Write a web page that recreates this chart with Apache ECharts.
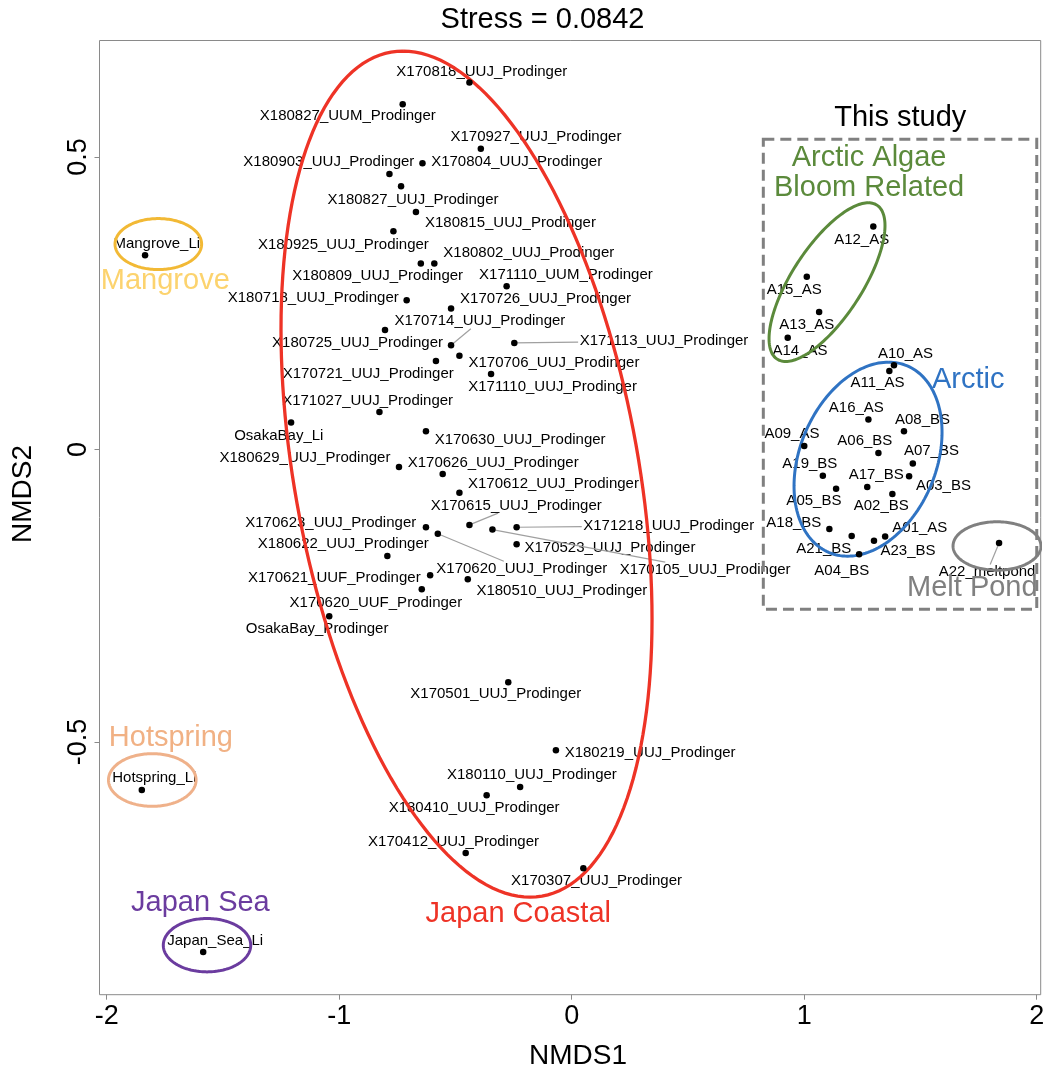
<!DOCTYPE html>
<html><head><meta charset="utf-8">
<script src="https://cdn.jsdelivr.net/npm/echarts@6/dist/echarts.min.js"></script>
<style>html,body{margin:0;padding:0;background:#fff}#chart{width:1043px;height:1073px}</style>
</head><body><div id="chart"></div>
<script>
// ---------------- data ----------------
const sampleNames = [
 'X170818_UUJ_Prodinger','X180827_UUM_Prodinger','X170927_UUJ_Prodinger','X170804_UUJ_Prodinger',
 'X180903_UUJ_Prodinger','X180827_UUJ_Prodinger','X180815_UUJ_Prodinger','X180925_UUJ_Prodinger',
 'X180809_UUJ_Prodinger','X180802_UUJ_Prodinger','X171110_UUM_Prodinger','X180718_UUJ_Prodinger',
 'X170726_UUJ_Prodinger','X180725_UUJ_Prodinger','X170714_UUJ_Prodinger','X171113_UUJ_Prodinger',
 'X170706_UUJ_Prodinger','X170721_UUJ_Prodinger','X171110_UUJ_Prodinger','X171027_UUJ_Prodinger',
 'OsakaBay_Li','X170630_UUJ_Prodinger','X180629_UUJ_Prodinger','X170626_UUJ_Prodinger',
 'X170612_UUJ_Prodinger','X170615_UUJ_Prodinger','X170623_UUJ_Prodinger','X171218_UUJ_Prodinger',
 'X180622_UUJ_Prodinger','X170523_UUJ_Prodinger','X170620_UUJ_Prodinger','X170105_UUJ_Prodinger',
 'X170621_UUF_Prodinger','X180510_UUJ_Prodinger','X170620_UUF_Prodinger','OsakaBay_Prodinger',
 'X170501_UUJ_Prodinger','X180219_UUJ_Prodinger','X180110_UUJ_Prodinger','X180410_UUJ_Prodinger',
 'X170412_UUJ_Prodinger','X170307_UUJ_Prodinger',
 'Mangrove_Li','Hotspring_Li','Japan_Sea_Li',
 'A12_AS','A15_AS','A13_AS','A14_AS','A10_AS','A11_AS','A16_AS','A08_BS','A09_AS','A06_BS',
 'A07_BS','A19_BS','A03_BS','A17_BS','A05_BS','A02_BS','A18_BS','A21_BS','A01_AS','A23_BS',
 'A04_BS','A22_meltpond'
];
const nmds1 = [
 -0.440,-0.727,-0.391,-0.642,
 -0.784,-0.734,-0.670,-0.767,
 -0.649,-0.591,-0.280,-0.710,
 -0.519,-0.803,-0.519,-0.247,
 -0.483,-0.584,-0.347,-0.827,
 -1.207,-0.627,-0.743,-0.555,
 -0.483,-0.440,-0.627,-0.237,
 -0.793,-0.237,-0.576,-0.341,
 -0.609,-0.447,-0.645,-1.043,
 -0.273,-0.068,-0.222,-0.366,
 -0.456,0.050,
 -1.835,-1.849,-1.585,
 1.297,1.011,1.064,0.929,1.386,1.366,1.276,1.429,1.000,1.319,
 1.467,1.080,1.451,1.271,1.137,1.379,1.108,1.204,1.348,1.300,
 1.236,1.838
];
const nmds2 = [
 0.627,0.590,0.514,0.489,
 0.471,0.450,0.406,0.373,
 0.318,0.318,0.279,0.255,
 0.241,0.204,0.178,0.182,
 0.160,0.151,0.129,0.064,
 0.046,0.031,-0.030,-0.042,
 -0.074,-0.129,-0.133,-0.133,
 -0.182,-0.162,-0.144,-0.137,
 -0.215,-0.222,-0.239,-0.285,
 -0.398,-0.514,-0.577,-0.591,
 -0.690,-0.716,
 0.332,-0.582,-0.859,
 0.381,0.295,0.235,0.191,0.144,0.134,0.051,0.031,0.006,-0.006,
 -0.024,-0.045,-0.046,-0.064,-0.067,-0.076,-0.136,-0.148,-0.149,-0.156,
 -0.179,-0.160
];

// group ellipses: centre + two conjugate half-axis vectors (NMDS units)
const groupNames   = ['Japan Coastal','Arctic Algae\nBloom Related','Arctic','Melt Pond','Mangrove','Hotspring','Japan Sea'];
const ellipseCX    = [-0.4525, 1.098, 1.2744, 1.829, -1.778, -1.804, -1.5686];
const ellipseCY    = [-0.0422, 0.286, -0.0166, -0.165, 0.351, -0.565, -0.8474];
const ellipseUX    = [-0.2731, 0.1776, 0.0882, 0, 0, 0, 0];
const ellipseUY    = [0.7231, 0.1356, 0.1658, 0.0414, 0.0436, 0.045, 0.0456];
const ellipseVX    = [0.7497, 0.175, 0.3058, 0.189, 0.1862, 0.1884, 0.188];
const ellipseVY    = [0, 0, 0, 0, 0, 0, 0];
// group name annotations (NMDS units)
const groupLabelX  = [-0.230, 1.279, 1.705, 1.723, -1.748, -1.724, -1.597];
const groupLabelY  = [-0.794, 0.472, 0.118, -0.236, 0.288, -0.494, -0.775];
// "This study" box [x1, y1, x2, y2] and its caption
const studyBox = [0.824, 0.530, 2.0, -0.273];
const studyCaption = { text: 'This study', x: 1.413, y: 0.567 };

const xTicks = [-2, -1, 0, 1, 2];
const yTicks = [-0.5, 0, 0.5];
const titleText = 'Stress = 0.0842';

// ---------------- styling / layout ----------------
const FONT = "'Liberation Sans', Arial, Helvetica, sans-serif";
const groupColors = ['#ee3326', '#5b8a3b', '#2f73c3', '#808080', '#f2b935', '#efb18a', '#6b3c9f'];
const groupTextColors = ['#ee3326', '#5b8a3b', '#2f73c3', '#808080', '#fcd36e', '#f1b184', '#6b3c9f'];
const groupLineWidth = [3.3, 3, 3, 3, 3, 3, 3];

// label offsets (px) from point to label centre
const labelOffsets = {
 'X170818_UUJ_Prodinger':[12.4,-11],'X180827_UUM_Prodinger':[-54.9,12],'X170927_UUJ_Prodinger':[55.1,-11.6],
 'X170804_UUJ_Prodinger':[94.2,-1.6],'X180903_UUJ_Prodinger':[-60.6,-12],'X180827_UUJ_Prodinger':[12,13.3],
 'X180815_UUJ_Prodinger':[94.5,11],'X180925_UUJ_Prodinger':[-50,13.3],'X180809_UUJ_Prodinger':[-43.2,12.7],
 'X180802_UUJ_Prodinger':[94.5,-10.6],'X171110_UUM_Prodinger':[59.3,-11],'X180718_UUJ_Prodinger':[-93.4,-2.3],
 'X170726_UUJ_Prodinger':[94.5,-9.3],'X180725_UUJ_Prodinger':[-27.5,12.7],'X170714_UUJ_Prodinger':[28.8,-24],
 'X171113_UUJ_Prodinger':[149.7,-2],'X170706_UUJ_Prodinger':[94.5,7],'X170721_UUJ_Prodinger':[-67.7,12.3],
 'X171110_UUJ_Prodinger':[61.5,12.7],'X171027_UUJ_Prodinger':[-11.8,-11],'OsakaBay_Li':[-12.3,13.4],
 'X170630_UUJ_Prodinger':[94.2,8.3],'X180629_UUJ_Prodinger':[-94,-9.3],'X170626_UUJ_Prodinger':[50.5,-11.3],
 'X170612_UUJ_Prodinger':[94,-8.7],'X170615_UUJ_Prodinger':[46.9,-19.3],'X170623_UUJ_Prodinger':[-95.2,-4.6],
 'X171218_UUJ_Prodinger':[152.1,-1.6],'X180622_UUJ_Prodinger':[-44.1,-11.7],'X170523_UUJ_Prodinger':[93.3,3.3],
 'X170620_UUJ_Prodinger':[84,35],'X170105_UUJ_Prodinger':[212.7,40],'X170621_UUF_Prodinger':[-95.8,3],
 'X180510_UUJ_Prodinger':[94.1,11.4],'X170620_UUF_Prodinger':[-45.9,13.4],'OsakaBay_Prodinger':[-12.1,12.7],
 'X170501_UUJ_Prodinger':[-12.5,12],'X180219_UUJ_Prodinger':[94.2,2.7],'X180110_UUJ_Prodinger':[11.8,-12.4],
 'X180410_UUJ_Prodinger':[-12.5,12.3],'X170412_UUJ_Prodinger':[-12.2,-11.7],'X170307_UUJ_Prodinger':[13.2,12.7],
 'Mangrove_Li':[11.7,-11],'Hotspring_Li':[12.5,-11.7],'Japan_Sea_Li':[12,-11],
 'A12_AS':[-11.6,13.3],'A15_AS':[-12.5,13.3],'A13_AS':[-12.3,12.6],'A14_AS':[12.3,12.7],'A10_AS':[11.5,-11.3],
 'A11_AS':[-11.8,12],'A16_AS':[-12.1,-12],'A08_BS':[18.5,-11.7],'A09_AS':[-12.3,-12],'A06_BS':[-13.6,-11.7],
 'A07_BS':[18.6,-12.3],'A19_BS':[-13,-12.4],'A03_BS':[34.3,10],'A17_BS':[8.9,-11.7],'A05_BS':[-22.2,12.4],
 'A02_BS':[-11.1,12],'A18_BS':[-35.5,-5.7],'A21_BS':[-27.9,12.6],'A01_AS':[34.7,-8.4],'A23_BS':[34,10],
 'A04_BS':[-17.3,16.7],'A22_meltpond':[-12,29]
};
const leaderLabels = new Set(['X170714_UUJ_Prodinger','X171113_UUJ_Prodinger','X170615_UUJ_Prodinger',
 'X171218_UUJ_Prodinger','X170620_UUJ_Prodinger','X170105_UUJ_Prodinger','A22_meltpond']);

const measureCtx = document.createElement('canvas').getContext('2d');
measureCtx.font = '15px ' + FONT;
function textW(t){ return measureCtx.measureText(t).width; }

function txt(x, y, text, size, color, rotation) {
  return { type: 'text', x: x, y: y, rotation: rotation || 0,
    style: { text: text, fill: color, fontSize: size, fontFamily: FONT,
      align: 'center', verticalAlign: 'middle', textAlign: 'center', textVerticalAlign: 'middle',
      lineHeight: Math.round(size * 1.04) } };
}

const chart = echarts.init(document.getElementById('chart'), null, { renderer: 'canvas' });

const option = {
  animation: false,
  backgroundColor: '#fff',
  grid: { left: 99.5, right: 2.3, top: 40.5, bottom: 78.3, show: true, borderColor: '#8a8a8a', borderWidth: 1,
          backgroundColor: 'transparent', containLabel: false, outerBoundsMode: 'none' },
  xAxis: {
    type: 'value', min: -2.031, max: 2.017,
    splitLine: { show: false }, axisLine: { show: false, onZero: false },
    axisTick: { show: true, length: 5, lineStyle: { color: '#8a8a8a' }, customValues: xTicks },
    axisLabel: { customValues: xTicks, fontSize: 27, color: '#000', fontFamily: FONT, margin: 8 }
  },
  yAxis: {
    type: 'value', min: -0.932, max: 0.699,
    splitLine: { show: false }, axisLine: { show: false, onZero: false },
    axisTick: { show: true, length: 5, lineStyle: { color: '#8a8a8a' }, customValues: yTicks },
    axisLabel: { customValues: yTicks, fontSize: 27, color: '#000', fontFamily: FONT, margin: 7, rotate: 90 }
  },
  graphic: [
    txt(542.5, 19.5, titleText, 29, '#000'),
    txt(578, 1056.4, 'NMDS1', 28, '#000'),
    txt(23, 494, 'NMDS2', 28, '#000', Math.PI / 2)
  ],
  series: [
    { // sample labels + leader lines
      type: 'custom', coordinateSystem: 'cartesian2d', silent: true, z: 2,
      data: nmds1.map((x, i) => [x, nmds2[i]]),
      renderItem: function (params, api) {
        const i = params.dataIndex;
        const name = sampleNames[i];
        const p = api.coord([api.value(0), api.value(1)]);
        const off = labelOffsets[name] || [0, -12];
        const c = [p[0] + off[0], p[1] + off[1]];
        const children = [];
        if (leaderLabels.has(name)) {
          const hw = textW(name) / 2 + 1.5, hh = 7.5;
          const dx = c[0] - p[0], dy = c[1] - p[1];
          const s = Math.max(Math.abs(dx) / hw, Math.abs(dy) / hh);
          children.push({ type: 'line', shape: { x1: p[0], y1: p[1], x2: c[0] - dx / s, y2: c[1] - dy / s },
            style: { stroke: '#a0a0a0', lineWidth: 1.2 } });
        }
        children.push(txt(c[0], c[1], name, 15, '#000'));
        return { type: 'group', children: children };
      }
    },
    { // this study box
      type: 'custom', coordinateSystem: 'cartesian2d', silent: true, z: 3,
      data: [[studyBox[0], studyBox[1], studyBox[2], studyBox[3]]],
      renderItem: function (params, api) {
        const a = api.coord([api.value(0), api.value(1)]);
        const b = api.coord([api.value(2), api.value(3)]);
        const cap = api.coord([studyCaption.x, studyCaption.y]);
        return { type: 'group', children: [
          { type: 'rect', shape: { x: a[0], y: a[1], width: b[0] - a[0], height: b[1] - a[1] },
            style: { fill: null, stroke: '#808080', lineWidth: 3, lineDash: [11, 6] } },
          txt(cap[0], cap[1], studyCaption.text, 29, '#000')
        ] };
      }
    },
    { // ellipses
      type: 'custom', coordinateSystem: 'cartesian2d', silent: true, z: 4, clip: true,
      data: ellipseCX.map((x, i) => [x, ellipseCY[i]]),
      renderItem: function (params, api) {
        const i = params.dataIndex;
        const pts = [];
        for (let k = 0; k <= 180; k++) {
          const t = k / 180 * 2 * Math.PI;
          const x = ellipseCX[i] + ellipseUX[i] * Math.cos(t) + ellipseVX[i] * Math.sin(t);
          const y = ellipseCY[i] + ellipseUY[i] * Math.cos(t) + ellipseVY[i] * Math.sin(t);
          pts.push(api.coord([x, y]));
        }
        return { type: 'polyline', shape: { points: pts },
          style: { fill: null, stroke: groupColors[i], lineWidth: groupLineWidth[i] } };
      }
    },
    { // group annotations
      type: 'custom', coordinateSystem: 'cartesian2d', silent: true, z: 5,
      data: groupLabelX.map((x, i) => [x, groupLabelY[i]]),
      renderItem: function (params, api) {
        const i = params.dataIndex;
        const p = api.coord([api.value(0), api.value(1)]);
        return txt(p[0], p[1], groupNames[i], 29, groupTextColors[i]);
      }
    },
    { // points
      type: 'scatter', silent: true, z: 6,
      symbolSize: 6.5, itemStyle: { color: '#000', opacity: 1 },
      data: nmds1.map((x, i) => [x, nmds2[i]])
    }
  ]
};
chart.setOption(option);
</script>
</body></html>
